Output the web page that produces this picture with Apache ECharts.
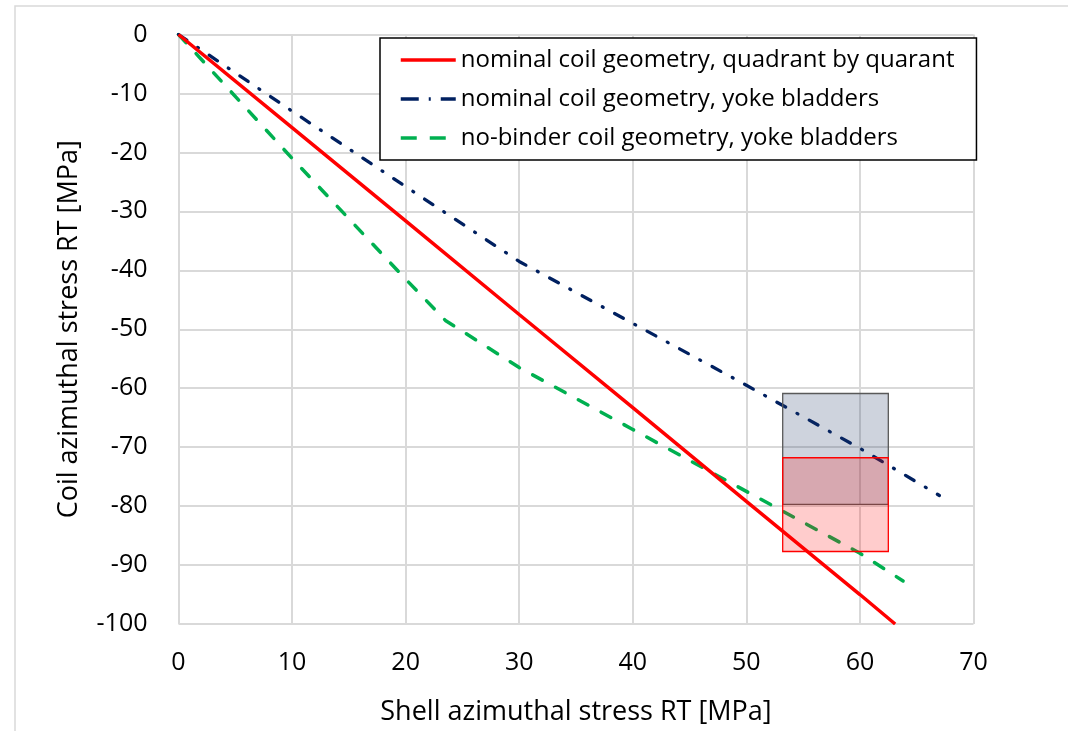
<!DOCTYPE html>
<html>
<head>
<meta charset="utf-8">
<style>
  html, body { margin: 0; padding: 0; background: #ffffff; }
  #chart { width: 1068px; height: 731px; }
</style>
<script src="https://cdn.jsdelivr.net/npm/echarts@6/dist/echarts.min.js"></script>
</head>
<body>
<div id="chart"></div>
<script>
// ---- data ----
const seriesNames = [
  'nominal coil geometry, quadrant by quarant',
  'nominal coil geometry, yoke bladders',
  'no-binder coil geometry, yoke bladders'
];
// nominal, quadrant by quadrant (shell x, coil y)
const redX = [0, 10, 20, 30, 40, 50, 60, 63.1];
const redY = [0, -15.8, -31.6, -47.5, -63.3, -79.2, -95, -100];
// nominal, yoke bladders
const blueX = [0, 10, 20, 30, 40, 50, 60, 67];
const blueY = [0, -13, -25.8, -38.5, -49, -59.5, -70.2, -78.2];
// no-binder, yoke bladders
const greenX = [0, 10, 20, 23.5, 30, 40, 50, 60, 63.8];
const greenY = [0, -21, -41.5, -48.5, -56.5, -67, -77.5, -88, -92.7];
// target boxes: [xMin, xMax, yMin, yMax]
const blueBox = [53.2, 62.5, -79.7, -60.9];
const redBox = [53.2, 62.5, -87.7, -71.8];

const xTitle = 'Shell azimuthal stress RT [MPa]';
const yTitle = 'Coil azimuthal stress RT [MPa]';

function pairs(xs, ys) { return xs.map((x, i) => [x, ys[i]]); }

const FONT = '"Open Sans", "Noto Sans", sans-serif';
const chart = echarts.init(document.getElementById('chart'), null, { renderer: 'canvas' });

function boxSeries(box, fill, stroke, z) {
  return {
    type: 'custom',
    z: z,
    silent: true,
    data: [box],
    renderItem: function (params, api) {
      const p1 = api.coord([api.value(0), api.value(3)]);
      const p2 = api.coord([api.value(1), api.value(2)]);
      return {
        type: 'rect',
        shape: { x: p1[0], y: p1[1], width: p2[0] - p1[0], height: p2[1] - p1[1] },
        style: { fill: fill, stroke: stroke, lineWidth: 1.3 }
      };
    },
    encode: { x: [0, 1], y: [2, 3] }
  };
}

const option = {
  backgroundColor: '#ffffff',
  animation: false,
  textStyle: { fontFamily: FONT },
  graphic: [{
    type: 'rect',
    shape: { x: 15, y: 6, width: 1100, height: 800 },
    style: { fill: 'none', stroke: '#D9D9D9', lineWidth: 1.5 },
    silent: true, z: -10
  }],
  grid: { left: 178.5, right: 94.5, top: 34.5, bottom: 105, containLabel: false },
  legend: {
    data: [
      { name: seriesNames[0], lineStyle: { type: 'solid' } },
      { name: seriesNames[1], lineStyle: { type: [18, 10, 2, 10] } },
      { name: seriesNames[2], lineStyle: { type: [16, 13] } }
    ],
    orient: 'vertical',
    left: 380, top: 38,
    backgroundColor: '#ffffff',
    borderColor: '#000000', borderWidth: 1.5, borderRadius: 0,
    padding: [10, 22, 10, 19],
    itemWidth: 55, itemHeight: 14, itemGap: 15,
    itemStyle: { opacity: 0 },
    lineStyle: { width: 3.5, cap: 'butt' },
    textStyle: { fontFamily: FONT, fontSize: 24, color: '#000000' }
  },
  xAxis: {
    type: 'value', min: 0, max: 70, interval: 10,
    name: xTitle, nameLocation: 'middle', nameGap: 75,
    nameTextStyle: { fontFamily: FONT, fontSize: 27, color: '#000000' },
    axisLine: { show: false }, axisTick: { show: false },
    axisLabel: { fontFamily: FONT, fontSize: 25, color: '#000000', margin: 26 },
    splitLine: { show: true, lineStyle: { color: '#D9D9D9', width: 2 } }
  },
  yAxis: {
    type: 'value', min: -100, max: 0, interval: 10,
    name: yTitle, nameLocation: 'middle', nameGap: 96,
    nameTextStyle: { fontFamily: FONT, fontSize: 27, color: '#000000' },
    axisLine: { show: false }, axisTick: { show: false },
    axisLabel: { fontFamily: FONT, fontSize: 25, color: '#000000', margin: 31 },
    splitLine: { show: true, lineStyle: { color: '#D9D9D9', width: 2 } }
  },
  series: [
    {
      name: seriesNames[0], type: 'line', data: pairs(redX, redY),
      symbol: 'none', z: 5,
      lineStyle: { color: '#FF0000', width: 3.5 },
      itemStyle: { color: '#FF0000' }
    },
    {
      name: seriesNames[1], type: 'line', data: pairs(blueX, blueY),
      symbol: 'none', z: 4,
      lineStyle: { color: '#002060', width: 3.3, type: [10, 13, 1, 13], cap: 'round' },
      itemStyle: { color: '#002060' }
    },
    {
      name: seriesNames[2], type: 'line', data: pairs(greenX, greenY),
      symbol: 'none', z: 3,
      lineStyle: { color: '#00B050', width: 3.5, type: [11, 15], cap: 'round' },
      itemStyle: { color: '#00B050' }
    },
    boxSeries(blueBox, 'rgba(32,56,100,0.22)', '#595959', 8),
    boxSeries(redBox, 'rgba(255,0,0,0.2)', '#FF0000', 9)
  ]
};
chart.setOption(option);
</script>
</body>
</html>
